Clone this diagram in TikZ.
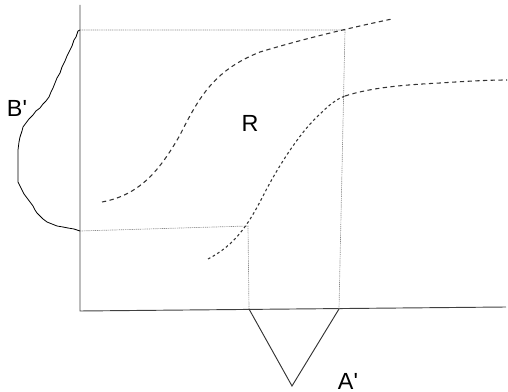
\documentclass[tikz,border=0pt]{standalone}
\usepackage{fontspec}
\setmainfont{Liberation Sans}
\begin{document}
\begin{tikzpicture}[x=0.75pt,y=-0.75pt,
  axis/.style={draw=black!75,line width=0.7pt},
  guide/.style={draw=black!45,line width=0.5pt,dash pattern=on 0.8pt off 0.6pt},
  curvedash/.style={draw=black!80,line width=0.8pt,dash pattern=on 3.2pt off 2.6pt},
  curvedot/.style={draw=black!80,line width=0.8pt,dash pattern=on 2pt off 2pt},
  lbl/.style={font=\fontsize{17.5}{20}\selectfont,inner sep=0pt}]
\useasboundingbox (0,0) rectangle (508,392);
% key points
\coordinate (ytop) at (80,5);
\coordinate (o) at (80,311);
\coordinate (xend) at (506,307);
\coordinate (b1) at (80,30);
\coordinate (b2) at (80,231);
\coordinate (p1) at (345,30);
\coordinate (p2) at (248,226);
\coordinate (a1) at (249,309);
\coordinate (a2) at (339,309);
\coordinate (apex) at (292,386);
% axes
\draw[axis] (ytop) -- (o) -- (xend);
% guide lines
\draw[guide] (b1) -- (p1) -- (a2);
\draw[guide] (b2) -- (p2) -- (a1);
% B' profile
\draw[black,line width=0.6pt] (b1) -- (78,31) -- (76,37) -- (74,40) -- (72,46) -- (69,52) -- (67,56) -- (65,61) -- (62,67) -- (60,73) -- (57,78) -- (55,83) -- (53,88) -- (51,92) -- (49,97) -- (46,101) -- (43,104) -- (40,108) -- (36,111) -- (33,115) -- (29,119) -- (26,123) -- (23,127) -- (22,131) -- (20,137) -- (19,142) -- (18,150) -- (18,165) -- (18,182) -- (21,188) -- (24,194) -- (27,198) -- (30,202) -- (33,206) -- (35,210) -- (37,213) -- (40,216) -- (43,219) -- (47,222) -- (52,224) -- (57,226) -- (63,227) -- (68,228) -- (74,229) -- (b2);
% A' profile
\draw[black!80,line width=0.7pt] (a1) -- (apex) -- (a2);
% curves
\draw[curvedash] (102,202) .. controls (140,195) and (160,170) .. (180,135)
  .. controls (200,95) and (215,70) .. (260,52)
  .. controls (300,40) and (340,30) .. (392,19);
\draw[curvedot] (208,259) .. controls (235,245) and (248,225) .. (262,198)
  .. controls (275,172) and (295,140) .. (312,122)
  .. controls (322,112) and (333,100) .. (345,96);
\draw[curvedash] (345,96) .. controls (370,88) and (400,85) .. (440,83)
  .. controls (470,81) and (490,80) .. (507,80);
% labels
\node[lbl] (lB) at (17,108) {B\textquotesingle};
\node[lbl] (lR) at (250,123) {R};
\node[lbl] (lA) at (348,381) {A\textquotesingle};
\end{tikzpicture}
\end{document}
